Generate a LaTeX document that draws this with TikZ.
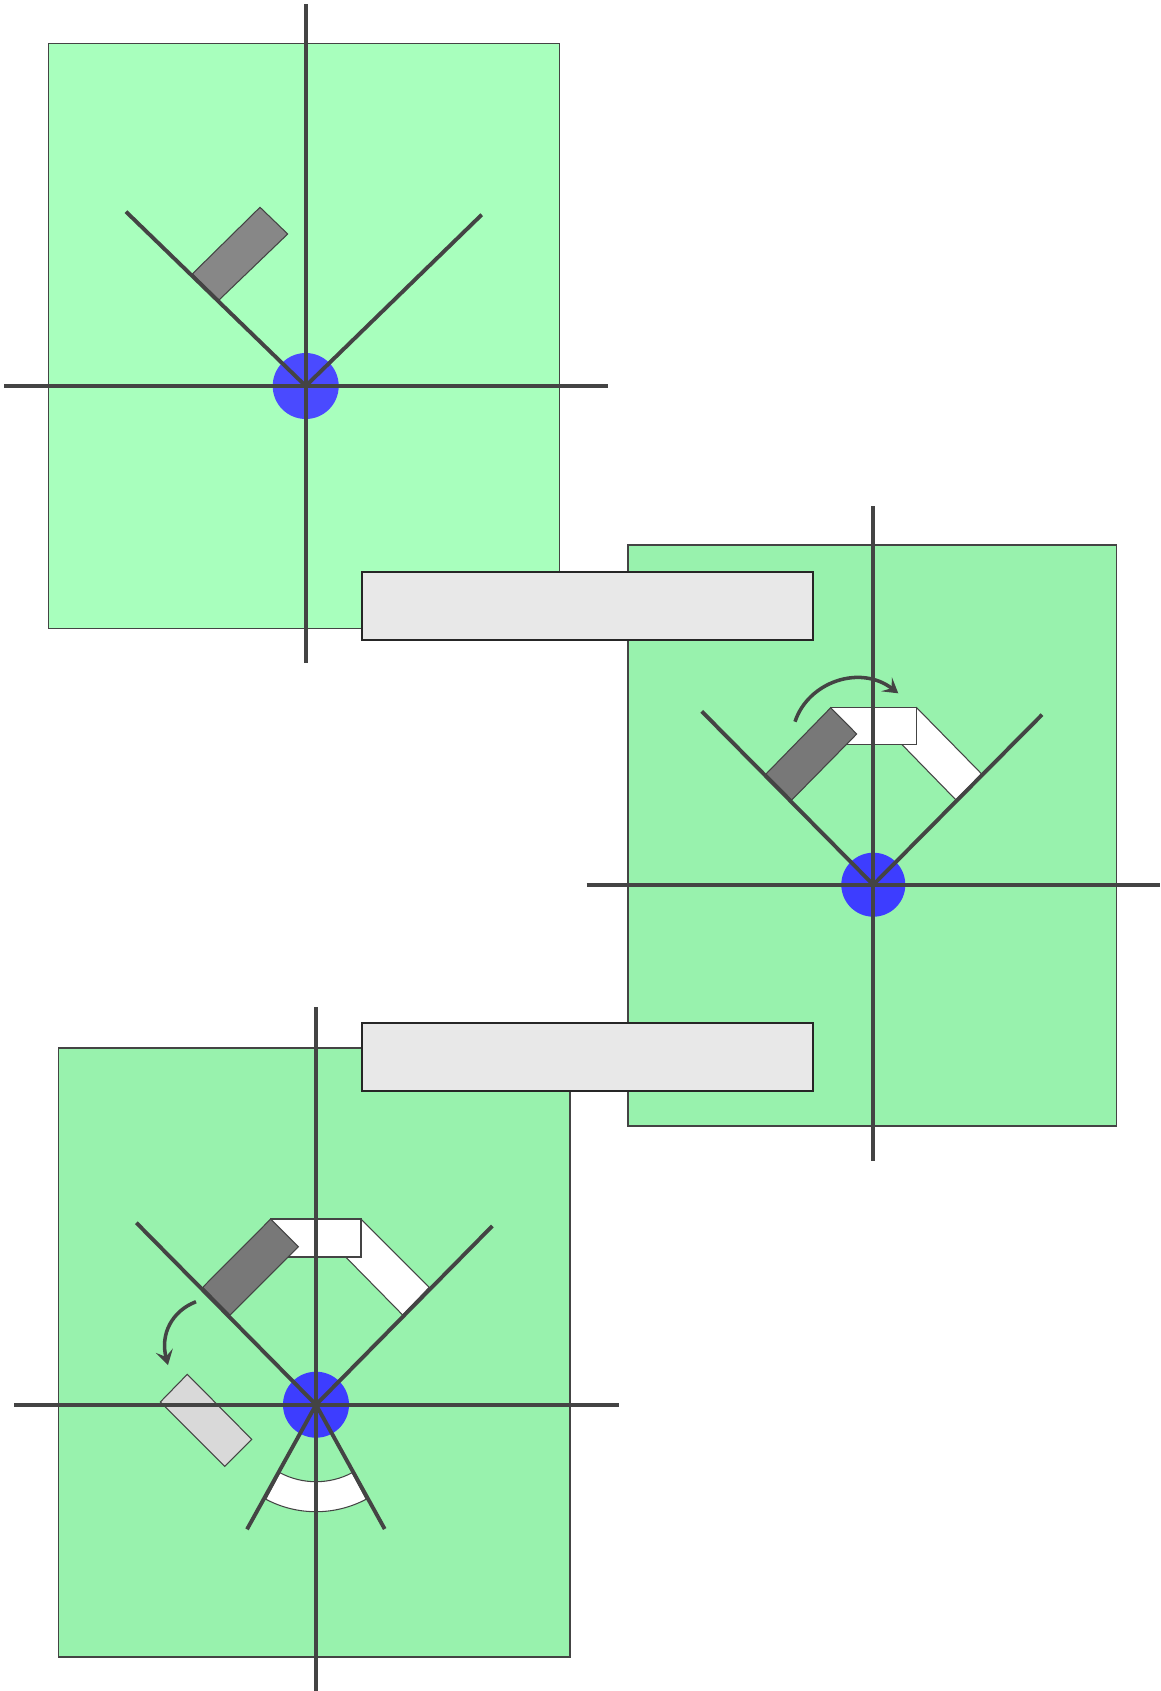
\documentclass[tikz,border=0pt]{standalone}
\usetikzlibrary{arrows.meta}
\definecolor{paleGreen}{HTML}{A8FFBD}
\definecolor{midGreen}{HTML}{98F2AD}
\definecolor{paleBlue}{HTML}{4A4AFF}
\definecolor{midBlue}{HTML}{3D3DFF}
\definecolor{lineGrey}{HTML}{444444}
\tikzset{
  axisline/.style={color=lineGrey,line width=1.1pt},
  thinline/.style={draw=lineGrey,line width=.3pt},
  turnarrow/.style={color=lineGrey,line width=1pt,-{Stealth[length=4.2pt,width=5pt,inset=1.8pt]}},
  bannerbox/.style={draw=black!85,line width=.6pt,fill=black!9}
}
\begin{document}
\begin{tikzpicture}[x=0.01cm,y=-0.01cm]
   \useasboundingbox (0,0) rectangle (1160,1691);
   \coordinate (O1) at (305.7,386);
   \coordinate (O2) at (873.3,884.7);
   \coordinate (O3) at (316,1404.7);

   % first panel
   \draw[thinline,fill=paleGreen] (48.3,43.8) rectangle (559.3,628.7);
   \draw[thinline,fill=black!47] (260,207.3) -- (287.7,234) -- (219,300) -- (192.3,274) -- cycle;
   \fill[paleBlue] (O1) circle(33);
   \draw[axisline] (305.7,4.3) -- (305.7,663);
   \draw[axisline] (4,386) -- (608,386);
   \draw[axisline] (126,211.7) -- (O1) -- (481.7,214.7);

   % second panel
   \draw[thinline,fill=midGreen] (628,545) rectangle (1116.5,1126);
   \draw[thinline,fill=white] (916.7,707.7) -- (981.7,774) -- (956,800) -- (901.7,744.3) -- cycle;
   \draw[thinline,fill=white] (830.7,707.7) rectangle (916.7,744.3);
   \draw[thinline,fill=black!53] (830.7,707.7) -- (856.7,734) -- (791.7,800) -- (766,774) -- cycle;
   \fill[midBlue] (O2) circle(32);
   \draw[axisline] (873.3,506) -- (873.3,1161);
   \draw[axisline] (586.5,884.7) -- (1160,884.7);
   \draw[axisline] (701.7,711.3) -- (O2) -- (1042,714.7);
   \draw[turnarrow] (795,721.7) .. controls (808,682) and (860,664) .. (898.3,693.3);

   % third panel
   \draw[thinline,fill=midGreen] (58.3,1048) rectangle (570,1657);
   \draw[thinline,fill=white] (361,1219) -- (429.3,1287.3) -- (402.7,1315) -- (345.7,1257) -- cycle;
   \draw[thinline,fill=white] (270.7,1219) rectangle (361,1257);
   \draw[thinline,fill=black!53] (270.7,1219) -- (298.3,1246.7) -- (230,1315) -- (202.7,1287.3) -- cycle;
   \draw[thinline,fill=black!15] (187.3,1374.3) -- (251.7,1439.3) -- (224.7,1466.3) -- (160.3,1402) -- cycle;
   \draw[thinline,fill=white] ([shift={(O3)}]62:77) arc[start angle=62,end angle=118,radius=77]
     -- ([shift={(O3)}]118:107) arc[start angle=118,end angle=62,radius=107] -- cycle;
   \fill[midBlue] (O3) circle(33);
   \draw[axisline] (316,1007.3) -- (316,1691);
   \draw[axisline] (14,1404.7) -- (619,1404.7);
   \draw[axisline] (136.3,1222.7) -- (O3) -- (492.3,1226);
   \draw[axisline] (247,1529.3) -- (O3) -- (384.7,1529);
   \draw[turnarrow] (196,1301.7) .. controls (172,1311) and (160,1334) .. (168,1365);

   % banners on top
   \draw[bannerbox] (361.7,572.3) rectangle (813,639.7);
   \draw[bannerbox] (361.7,1023.3) rectangle (813,1090.7);
 \end{tikzpicture}
\end{document}
